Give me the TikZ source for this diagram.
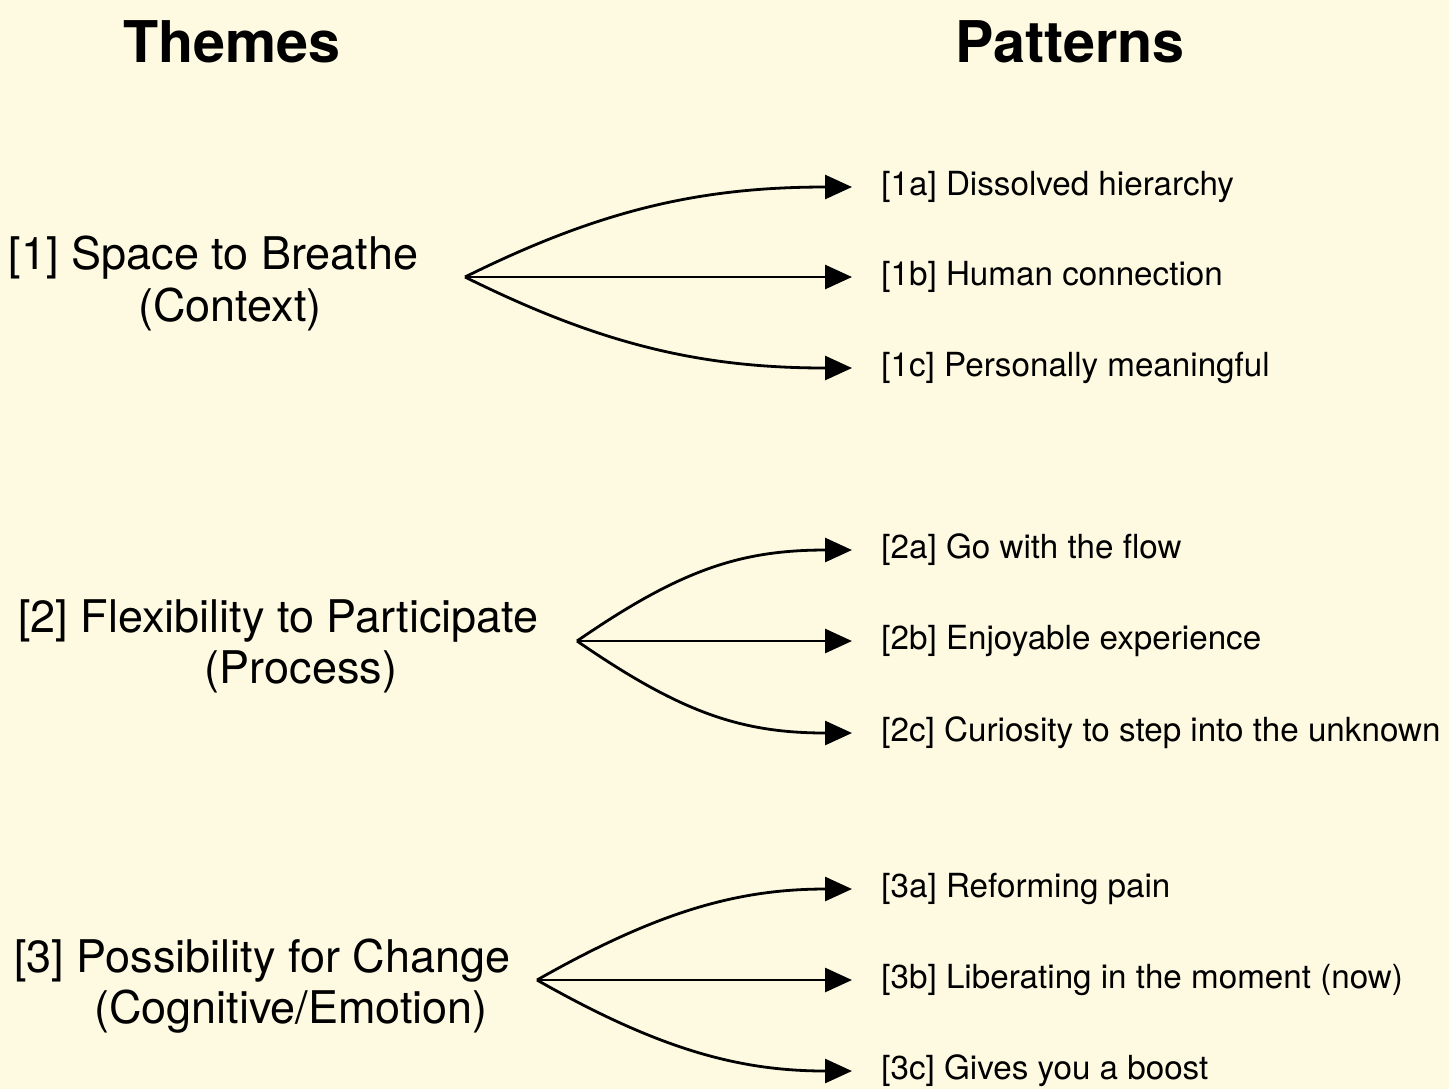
\documentclass[tikz,border=0pt]{standalone}
\usepackage{fontspec}
\setmainfont{TeX Gyre Heros}
\usetikzlibrary{arrows.meta}
\definecolor{bgcream}{HTML}{FEFAE2}
\tikzset{
  title/.style={font=\fontsize{28.75}{34}\selectfont\bfseries, inner sep=0pt},
  theme/.style={font=\fontsize{22.5}{27}\selectfont, inner sep=0pt},
  pattern/.style={font=\fontsize{16.6}{20}\selectfont, anchor=west, inner ysep=0pt, inner xsep=14.5pt},
  fan/.style={line width=1.4pt, -{Triangle[length=13.5pt,width=12pt]}}
}
\begin{document}
\begin{tikzpicture}[x=0.5pt,y=-0.5pt]
\fill[bgcream] (0,0) rectangle (1449,1089);
\useasboundingbox (0,0) rectangle (1449,1089);

\node[title] (hthemes) at (232,42) {Themes};
\node[title] (hpatterns) at (1070,42) {Patterns};

% themes
\node[theme] (t1) at (213.5,258) {[1] Space to Breathe};
\node[theme] (t1s) at (230,309) {(Context)};
\node[theme] (t2) at (278.5,621) {[2] Flexibility to Participate};
\node[theme] (t2s) at (301,672) {(Process)};
\node[theme] (t3) at (262.5,961) {[3] Possibility for Change};
\node[theme] (t3s) at (291,1012) {(Cognitive/Emotion)};

\coordinate (o1) at (465,277);
\coordinate (o2) at (577,641);
\coordinate (o3) at (537,980);

% patterns (west anchor = arrow tip at x=852)
\node[pattern] (p1a) at (852,187) {[1a] Dissolved hierarchy};
\node[pattern] (p1b) at (852,277) {[1b] Human connection};
\node[pattern] (p1c) at (852,368) {[1c] Personally meaningful};
\node[pattern] (p2a) at (852,550) {[2a] Go with the flow};
\node[pattern] (p2b) at (852,641) {[2b] Enjoyable experience};
\node[pattern] (p2c) at (852,733) {[2c] Curiosity to step into the unknown};
\node[pattern] (p3a) at (852,889) {[3a] Reforming pain};
\node[pattern] (p3b) at (852,980) {[3b] Liberating in the moment (now)};
\node[pattern] (p3c) at (852,1071) {[3c] Gives you a boost};

% fans
\draw[fan] (o1) .. controls (600,210) and (700,187) .. (p1a.west);
\draw[fan] (o1) -- (p1b.west);
\draw[fan] (o1) .. controls (600,344) and (700,368) .. (p1c.west);

\draw[fan] (o2) .. controls (680,570) and (740,550) .. (p2a.west);
\draw[fan] (o2) -- (p2b.west);
\draw[fan] (o2) .. controls (680,712) and (740,733) .. (p2c.west);

\draw[fan] (o3) .. controls (660,910) and (740,889) .. (p3a.west);
\draw[fan] (o3) -- (p3b.west);
\draw[fan] (o3) .. controls (660,1050) and (740,1071) .. (p3c.west);
\end{tikzpicture}
\end{document}
